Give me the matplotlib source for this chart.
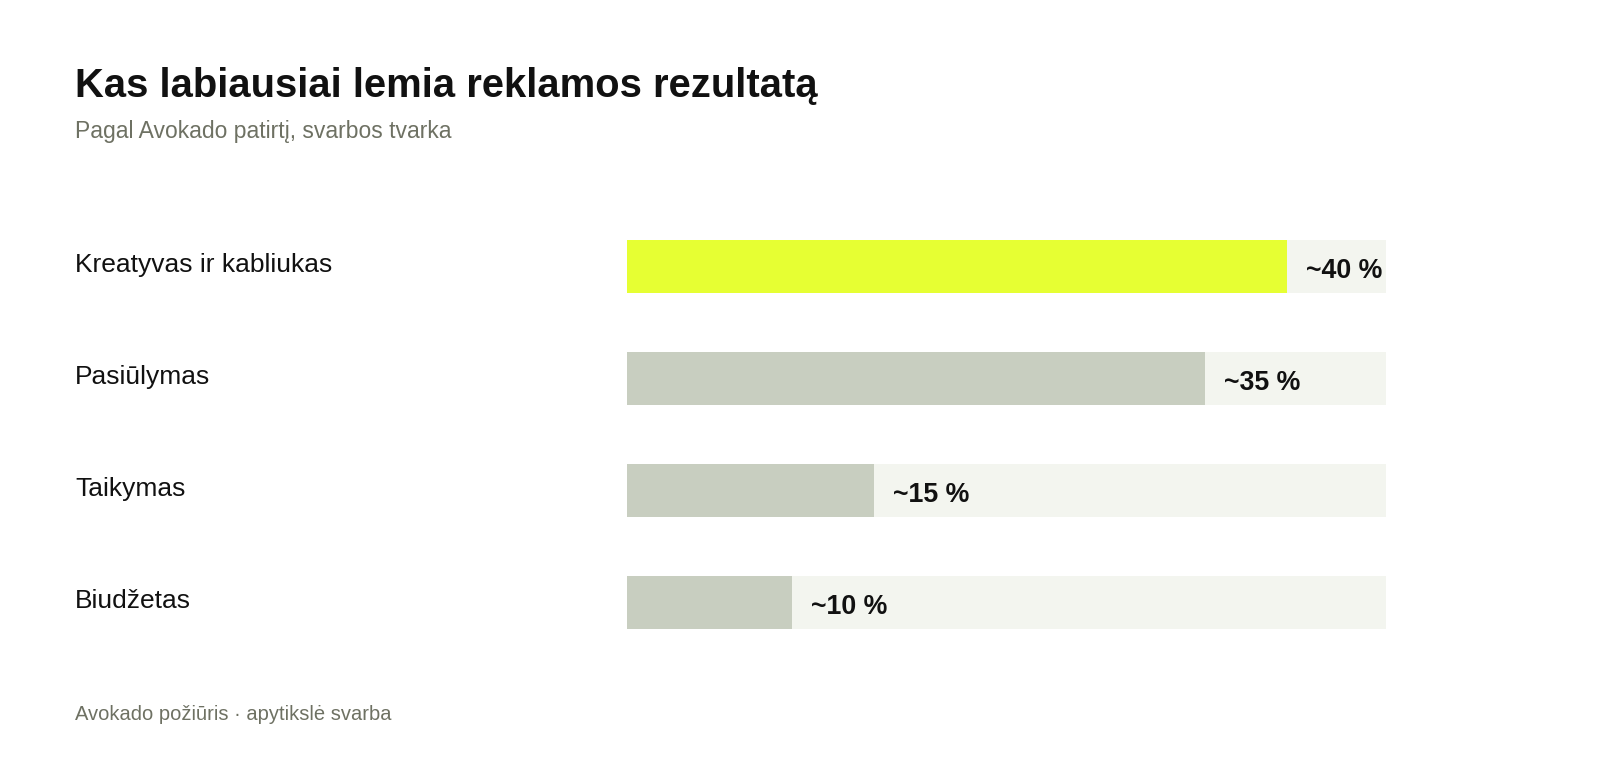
import matplotlib.pyplot as plt
import matplotlib.transforms as mtransforms

plt.rcParams['font.family'] = ['Liberation Sans', 'DejaVu Sans']

categories = ["Kreatyvas ir kabliukas", "Pasiūlymas", "Taikymas", "Biudžetas"]
values = [40, 35, 15, 10]
value_labels = ["~40 %", "~35 %", "~15 %", "~10 %"]
highlight = [True, False, False, False]

title = "Kas labiausiai lemia reklamos rezultatą"
subtitle = "Pagal Avokado patirtį, svarbos tvarka"
footer = "Avokado požiūris · apytikslė svarba"

YELLOW = "#E6FF33"
GRAY = "#C8CEC0"
TRACK = "#F3F5EF"
MUTED = "#6E7163"
INK = "#111111"

W, H = 1600, 763
fig = plt.figure(figsize=(W / 100, H / 100), dpi=100)
fig.patch.set_facecolor("white")

# axes placed in pixel terms
left_px, right_px = 626.5, 1386.5
top_px, bot_px = 210.5, 658.5
ax = fig.add_axes([left_px / W, (H - bot_px) / H, (right_px - left_px) / W, (bot_px - top_px) / H])
xmax = max(values) * 1.15
ax.set_xlim(0, xmax)
ax.set_ylim(len(categories) - 0.5, -0.5)
ax.axis("off")

ypos = list(range(len(categories)))
bar_h = 53 / 112
ax.barh(ypos, [xmax] * len(values), height=bar_h, color=TRACK, left=0)
colors = [YELLOW if h else GRAY for h in highlight]
ax.barh(ypos, values, height=bar_h, color=colors)

px = 1.0 / 112  # one pixel in y data units
lab_tr = mtransforms.blended_transform_factory(fig.transFigure, ax.transData)
for i, (cat, v, vl) in enumerate(zip(categories, values, value_labels)):
    ax.text(75 / W, i + 6.0 * px, cat, transform=lab_tr, fontsize=19,
            color=INK, va="baseline", ha="left")
    ax.text(v + 19 / 760 * xmax, i + 12.0 * px, vl, fontsize=19.3, fontweight="bold",
            color=INK, va="baseline", ha="left")

fig.text(75 / W, (H - 96.7) / H, title, fontsize=28.8, fontweight="bold",
         color=INK, va="baseline", ha="left")
fig.text(75 / W, (H - 138.3) / H, subtitle, fontsize=16.5, color=MUTED,
         va="baseline", ha="left")
fig.text(75 / W, (H - 720) / H, footer, fontsize=14.5, color=MUTED,
         va="baseline", ha="left")

fig.savefig("out.png", dpi=100, facecolor="white")
